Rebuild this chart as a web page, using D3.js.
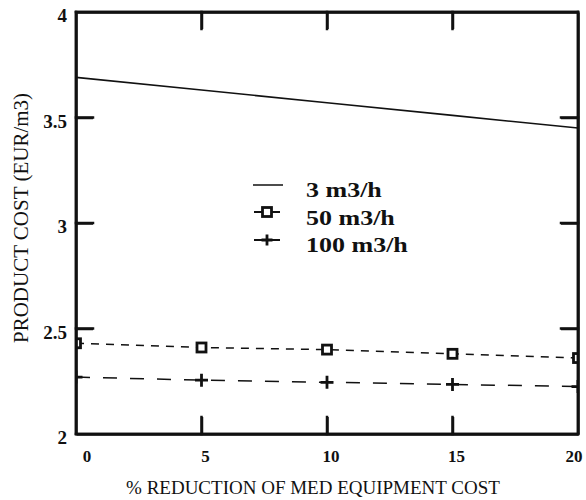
<!DOCTYPE html>
<html><head><meta charset="utf-8">
<script src="https://cdn.jsdelivr.net/npm/d3@7"></script>
<style>body{margin:0;background:#fff;} text{font-family:"Liberation Serif",serif;fill:#111;}</style>
</head><body>
<svg id="c" width="586" height="500"></svg>
<script>
const reduction = [0, 5, 10, 15, 20];
const cost3 = [3.69, 3.63, 3.57, 3.51, 3.45];
const cost50 = [2.43, 2.41, 2.40, 2.38, 2.36];
const cost100 = [2.27, 2.255, 2.245, 2.235, 2.225];
const seriesNames = ["3 m3/h", "50 m3/h", "100 m3/h"];
const xTicks = [0, 5, 10, 15, 20];
const yTicks = [2, 2.5, 3, 3.5, 4];

const svg = d3.select("#c");
const pLeft = 76, pRight = 578, pTop = 12, pBottom = 434;
const xs = d3.scaleLinear().domain([0, 20]).range([pLeft, pRight]);
const ys = d3.scaleLinear().domain([2, 4]).range([pBottom, pTop]);
const tickLen = 17;
const ink = "#111";

// plotted series (clipped to the frame)
svg.append("defs").append("clipPath").attr("id", "plotclip")
  .append("rect").attr("x", pLeft).attr("y", pTop).attr("width", pRight - pLeft).attr("height", pBottom - pTop);
const plot = svg.append("g").attr("clip-path", "url(#plotclip)");
const lineGen = d3.line().x((d, i) => xs(reduction[i])).y(d => ys(d));

plot.append("path").datum(cost3).attr("d", lineGen).attr("fill", "none")
  .attr("stroke", ink).attr("stroke-width", 1.6);
plot.append("path").datum(cost50).attr("d", lineGen).attr("fill", "none")
  .attr("stroke", ink).attr("stroke-width", 1.5).attr("stroke-dasharray", "8,7");
plot.append("path").datum(cost100).attr("d", lineGen).attr("fill", "none")
  .attr("stroke", ink).attr("stroke-width", 1.5).attr("stroke-dasharray", "14,13");

function drawSquare(g, cx, cy) {
  g.append("rect").attr("x", cx - 4.5).attr("y", cy - 4.5).attr("width", 9).attr("height", 9)
    .attr("fill", "#fff").attr("stroke", ink).attr("stroke-width", 2.8);
}
function drawPlus(g, cx, cy, s) {
  g.append("path").attr("d", `M${cx - s},${cy}H${cx + s}M${cx},${cy - s}V${cy + s}`)
    .attr("stroke", ink).attr("stroke-width", 2.8);
}
cost50.forEach((v, i) => drawSquare(plot, xs(reduction[i]), ys(v)));
cost100.forEach((v, i) => drawPlus(plot, xs(reduction[i]), ys(v), 6.5));

// tick labels
const xOff = d => d === 0 ? 11 : (d === 20 ? -4 : 4);
svg.append("g").selectAll("text").data(xTicks).join("text")
  .attr("x", d => xs(d) + xOff(d)).attr("y", 462)
  .attr("text-anchor", "middle").attr("font-size", 17).attr("font-weight", "bold").text(d => d);
svg.append("g").selectAll("text").data(yTicks).join("text")
  .attr("x", 67).attr("y", d => ys(d) + 10)
  .attr("text-anchor", "end").attr("font-size", 19).attr("font-weight", "bold").text(d => d);

// axis titles
svg.append("text").attr("x", 313).attr("y", 494).attr("text-anchor", "middle")
  .attr("font-size", 19).text("% REDUCTION OF MED EQUIPMENT COST");
svg.append("text").attr("transform", `translate(28,218) rotate(-90)`)
  .attr("text-anchor", "middle").attr("font-size", 21).text("PRODUCT COST (EUR/m3)");

// legend
const lg = svg.append("g");
const symY = [185, 212, 240], txtY = [197, 225, 252];
lg.append("line").attr("x1", 253).attr("x2", 283).attr("y1", symY[0]).attr("y2", symY[0]).attr("stroke", ink).attr("stroke-width", 1.5);
lg.append("line").attr("x1", 254).attr("x2", 280).attr("y1", symY[1]).attr("y2", symY[1]).attr("stroke", ink).attr("stroke-width", 2);
drawSquare(lg, 267, symY[1]);
lg.append("line").attr("x1", 254).attr("x2", 280).attr("y1", symY[2]).attr("y2", symY[2]).attr("stroke", ink).attr("stroke-width", 2);
drawPlus(lg, 267, symY[2], 5.5);
lg.selectAll("text").data(seriesNames).join("text")
  .attr("transform", (d, i) => `translate(306,${txtY[i]}) scale(1.3,1)`)
  .attr("font-size", 20).attr("font-weight", "bold").text(d => d);

// frame: plain rect (drawn last)
svg.append("rect").attr("x", xs(0)).attr("y", ys(4)).attr("width", xs(20) - xs(0)).attr("height", ys(2) - ys(4))
  .attr("fill", "none").attr("stroke", ink).attr("stroke-width", 2.5);

// frame + inward ticks as paths built with d3.line
const seg = d3.line();
const frameSegs = [
  [[xs(0), ys(4)], [xs(20), ys(4)]],
  [[xs(20), ys(4)], [xs(20), ys(2)]],
  [[xs(20), ys(2)], [xs(0), ys(2)]],
  [[xs(0), ys(2)], [xs(0), ys(4)]]
];
xTicks.slice(1, -1).forEach(d => {
  frameSegs.push([[xs(d), ys(2)], [xs(d), ys(2) - tickLen]]);
  frameSegs.push([[xs(d), ys(4)], [xs(d), ys(4) + tickLen]]);
});
yTicks.slice(1, -1).forEach(d => {
  frameSegs.push([[xs(0), ys(d)], [xs(0) + tickLen, ys(d)]]);
  frameSegs.push([[xs(20), ys(d)], [xs(20) - tickLen, ys(d)]]);
});
frameSegs.forEach(s => {
  svg.append("path").datum(s).attr("d", seg).attr("fill", "none")
    .attr("stroke", ink).attr("stroke-width", 2.5).attr("stroke-linecap", "square");
});

// standard d3 axes with inward ticks and no labels
const inX = xTicks.slice(1, -1), inY = yTicks.slice(1, -1);
const axes = [
  [d3.axisBottom(xs).tickValues(inX), `translate(0,${pBottom})`],
  [d3.axisTop(xs).tickValues(inX), `translate(0,${pTop})`],
  [d3.axisLeft(ys).tickValues(inY), `translate(${pLeft},0)`],
  [d3.axisRight(ys).tickValues(inY), `translate(${pRight},0)`]
];
axes.forEach(([ax, tr]) => {
  const g = svg.append("g").attr("transform", tr)
    .call(ax.tickSizeInner(-tickLen).tickSizeOuter(0).tickFormat(() => ""));
  g.selectAll("path, line").attr("stroke", ink).attr("stroke-width", 2.5);
});
</script>
</body></html>
